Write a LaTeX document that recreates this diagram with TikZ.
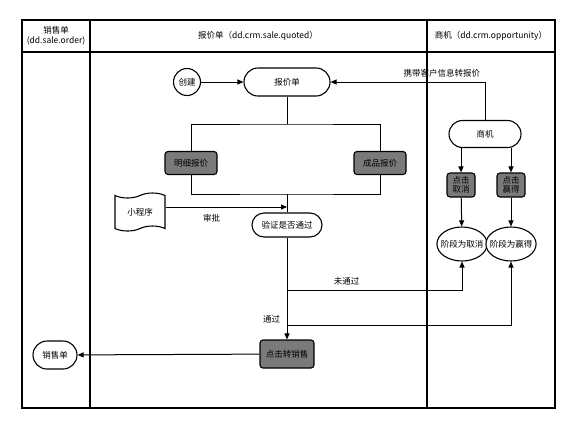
\documentclass[tikz,border=0pt]{standalone}
\usepackage{fontspec}
\setmainfont{Noto Sans CJK SC}
\usetikzlibrary{shapes.misc,shapes.geometric,shapes.symbols,arrows.meta}

\definecolor{boxgray}{RGB}{122,122,122}

\tikzset{
	stadium/.style={rounded rectangle, draw, line width=1.1pt, fill=white, inner sep=2pt},
	darkbox/.style={rectangle, rounded corners=3pt, draw, line width=1.1pt, fill=boxgray, inner sep=1pt},
	flow/.style={-{Triangle[length=6pt,width=5pt]}, line width=1pt},
	link/.style={line width=1pt},
}

\begin{document}
\begin{tikzpicture}[x=1pt, y=-1pt, font=\fontsize{8.5}{10}\selectfont]
				\useasboundingbox (0,0) rectangle (577,429);

				% couloirs
				\draw[line width=1.3pt] (22,20) rectangle (555,408);
				\draw[line width=1.1pt] (22,52) -- (555,52);
				\draw[line width=1.1pt] (90,20) -- (90,408);
				\draw[line width=1.1pt] (427,20) -- (427,408);

				% titres des couloirs
				\node[align=center, font=\fontsize{8.5}{9.5}\selectfont] (lane1) at (56,36) {销售单\\(dd.sale.order)};
				\node (lane2) at (258,36) {报价单（dd.crm.sale.quoted）};
				\node (lane3) at (491,36) {商机（dd.crm.opportunity）};

				% noeuds
				\node[circle, draw, line width=1.1pt, fill=white, minimum size=27pt, inner sep=0pt] (create) at (187,82) {创建};
				\node[stadium, minimum width=90pt, minimum height=28pt] (quote) at (287,82) {报价单};
				\node[stadium, minimum width=76pt, minimum height=27pt] (oppo) at (485,134) {商机};
				\node[darkbox, minimum width=52pt, minimum height=23pt] (detail) at (191,163) {明细报价};
				\node[darkbox, minimum width=52pt, minimum height=23pt] (product) at (380,163) {成品报价};
				\node[tape, draw, line width=1.1pt, fill=white, minimum width=50pt, minimum height=38pt, inner sep=1pt] (mini) at (140,212) {小程序};
				\node[stadium, minimum width=72pt, minimum height=24pt, inner xsep=1pt] (check) at (287,225) {验证是否通过};
				\node[darkbox, align=center, minimum width=28pt, minimum height=24pt, font=\fontsize{8.5}{8.5}\selectfont] (cancel) at (461,185) {点击\\取消};
				\node[darkbox, align=center, minimum width=28pt, minimum height=24pt, font=\fontsize{8.5}{8.5}\selectfont] (win) at (511,185) {点击\\赢得};
				\node[ellipse, draw, line width=1.1pt, fill=white, inner xsep=-3.5pt, minimum height=34pt] (stcancel) at (462,244) {阶段为取消};
				\node[ellipse, draw, line width=1.1pt, fill=white, inner xsep=-3.5pt, minimum height=34pt] (stwin) at (511,244) {阶段为赢得};
				\node[darkbox, minimum width=54pt, minimum height=28pt] (tosale) at (287,354) {点击转销售};
				\node[stadium, minimum width=48pt, minimum height=28pt] (order) at (55,355) {销售单};

				% points de jonction
				\coordinate (qsplit) at (287,124);
				\coordinate (qjoin) at (287,194);
				\coordinate (approve) at (287,207);
				\coordinate (failturn) at (287,290);
				\coordinate (passturn) at (287,325);

				% creation
				\draw[flow] (create) -- (quote);

				% opportunite -> devis
				\draw[flow] (oppo.north) |- (quote.east) node[pos=0.64, above=1pt] {携带客户信息转报价};

				% devis -> types
				\draw[link] (quote.south) -- (qsplit);
				\draw[link] (detail.north) |- (qsplit) -| (product.north);
				\draw[link] (detail.south) |- (qjoin) -| (product.south);
				\draw[link] (qjoin) -- (check.north);

				% mini programme
				\draw[flow] (mini.east |- approve) -- (approve) node[pos=0.38, below=3pt] {审批};

				% verification
				\draw[flow] (check.south) -- (tosale.north) node[pos=0.8, left=3pt] {通过};
				\draw[flow] (failturn) -| (stcancel.south) node[pos=0.17, above=1pt] {未通过};
				\draw[flow] (passturn) -| (stwin.south);

				% opportunite
				\draw[flow] (cancel |- oppo.south) -- (cancel.north);
				\draw[flow] (win |- oppo.south) -- (win.north);
				\draw[flow] (cancel) -- (stcancel);
				\draw[flow] (win) -- (stwin);

				% vers commande
				\draw[flow] (tosale) -- (order);
			\end{tikzpicture}
\end{document}
